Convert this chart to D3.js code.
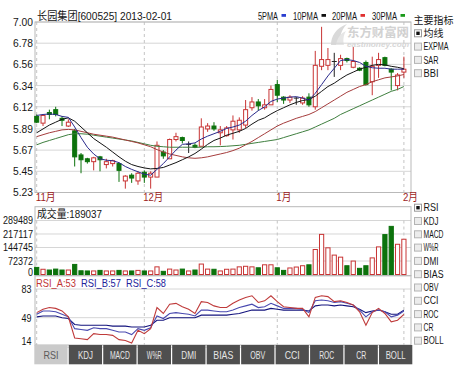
<!DOCTYPE html>
<html><head><meta charset="utf-8">
<script src="https://cdn.jsdelivr.net/npm/d3@7/dist/d3.min.js"></script>
<style>html,body{margin:0;padding:0;background:#fff;}svg{display:block;}</style>
</head><body>
<svg id="chart" width="460" height="370"></svg>
<script>
// ---------------- data ----------------
const stockTitle = "长园集团[600525] 2013-02-01";
const dates = [
"2012-11-08","2012-11-09","2012-11-12","2012-11-13","2012-11-14","2012-11-15","2012-11-16","2012-11-19","2012-11-20","2012-11-21","2012-11-22","2012-11-23","2012-11-26","2012-11-27","2012-11-28","2012-11-29","2012-11-30",
"2012-12-03","2012-12-04","2012-12-05","2012-12-06","2012-12-07","2012-12-10","2012-12-11","2012-12-12","2012-12-13","2012-12-14","2012-12-17","2012-12-18","2012-12-19","2012-12-20","2012-12-21","2012-12-24","2012-12-25","2012-12-26","2012-12-27","2012-12-28","2012-12-31",
"2013-01-04","2013-01-07","2013-01-08","2013-01-09","2013-01-10","2013-01-11","2013-01-14","2013-01-15","2013-01-16","2013-01-17","2013-01-18","2013-01-21","2013-01-22","2013-01-23","2013-01-24","2013-01-25","2013-01-28","2013-01-29","2013-01-30","2013-01-31",
"2013-02-01"];
const open  = [6.02,5.95,6.06,6.09,6.00,5.92,5.87,5.62,5.58,5.55, 5.60,5.52,5.53,5.53,5.35,5.41,5.35,5.44,5.39,5.39, 5.65,5.58,5.78,5.80,5.73,5.72,5.71,5.89,5.92,5.85, 5.82,5.88,5.88,5.93,6.11,6.17,6.11,6.14,6.35,6.22, 6.19,6.21,6.16,6.22,6.12,6.54,6.55,6.59,6.55,6.62, 6.53,6.52,6.58,6.38,6.55,6.63,6.51,6.34,6.48];
const high  = [6.04,6.04,6.09,6.12,6.02,5.99,5.89,5.64,5.59,5.60, 5.61,5.58,5.57,5.54,5.41,5.43,5.45,5.46,5.45,5.76, 5.67,5.79,5.85,5.81,5.76,5.74,6.00,5.95,5.96,5.92, 5.92,6.03,6.01,6.19,6.22,6.20,6.20,6.34,6.40,6.23, 6.24,6.22,6.23,6.26,6.70,6.95,6.73,6.68,6.66,6.63, 6.74,6.53,6.60,6.64,6.68,6.64,6.52,6.47,6.64];
const low   = [5.95,5.92,5.99,6.02,5.92,5.91,5.50,5.43,5.53,5.46, 5.45,5.48,5.50,5.34,5.27,5.33,5.31,5.33,5.27,5.39, 5.58,5.58,5.76,5.74,5.64,5.69,5.71,5.86,5.87,5.72, 5.81,5.78,5.85,5.90,6.08,6.08,6.09,6.14,6.17,6.15, 6.16,6.14,6.14,6.12,6.09,6.50,6.50,6.43,6.50,6.58, 6.52,6.49,6.34,6.24,6.42,6.54,6.29,6.29,6.42];
const close = [5.96,6.03,6.04,6.04,5.98,5.96,5.60,5.57,5.55,5.59, 5.57,5.55,5.56,5.46,5.40,5.38,5.43,5.39,5.43,5.72, 5.61,5.78,5.81,5.77,5.73,5.70,5.91,5.92,5.89,5.88, 5.90,5.97,5.98,6.09,6.17,6.13,6.14,6.30,6.24,6.19, 6.22,6.21,6.21,6.14,6.55,6.61,6.61,6.59,6.62,6.60, 6.59,6.50,6.35,6.54,6.61,6.55,6.48,6.45,6.51];
const volume = [38000,28000,24000,29000,24000,24000,54000,20000,19000,19000, 22000,19000,19000,22000,19000,19000,22000,19000,19000,41000, 17000,29000,24000,29000,19000,24000,56000,29000,28000,19000, 28000,29000,41000,44000,41000,36000,52000,52000,36000,22000, 35000,40000,47000,52000,134000,215000,143000,104000,93000,47000, 72000,33000,47000,89000,148000,214000,258000,162000,189037];
const ma5  = [6.03,6.04,6.045,6.04,6.02,6.01,5.91,5.80,5.70,5.63, 5.58,5.565,5.56,5.54,5.50,5.47,5.445,5.42,5.41,5.47, 5.53,5.60,5.67,5.73,5.735,5.745,5.785,5.815,5.84,5.865, 5.895,5.91,5.93,5.97,6.03,6.08,6.12,6.175,6.20,6.21, 6.22,6.225,6.21,6.19,6.26,6.35,6.44,6.52,6.60,6.61, 6.60,6.58,6.54,6.525,6.52,6.52,6.51,6.51,6.51];
const ma10 = [5.85,5.89,5.93,5.96,5.99,6.005,5.97,5.91,5.85,5.79, 5.745,5.70,5.65,5.60,5.555,5.52,5.50,5.485,5.475,5.48, 5.49,5.515,5.54,5.57,5.60,5.635,5.68,5.73,5.77,5.795, 5.825,5.845,5.865,5.895,5.94,5.98,6.005,6.045,6.08,6.11, 6.14,6.165,6.185,6.195,6.23,6.28,6.33,6.365,6.41,6.45, 6.48,6.51,6.53,6.55,6.56,6.555,6.54,6.53,6.515];
const ma20 = [5.81,5.83,5.85,5.865,5.88,5.885,5.88,5.865,5.85,5.835, 5.825,5.815,5.805,5.79,5.775,5.76,5.745,5.725,5.705,5.675, 5.65,5.63,5.615,5.60,5.59,5.585,5.59,5.60,5.615,5.63, 5.645,5.665,5.69,5.725,5.76,5.80,5.84,5.88,5.92,5.95, 5.975,6.00,6.02,6.04,6.07,6.11,6.15,6.19,6.23,6.27, 6.30,6.33,6.35,6.38,6.40,6.42,6.43,6.44,6.455];
const ma30 = [5.725,5.75,5.77,5.79,5.81,5.83,5.84,5.84,5.835,5.825, 5.815,5.805,5.795,5.785,5.775,5.765,5.75,5.735,5.72,5.71, 5.705,5.70,5.70,5.70,5.70,5.70,5.70,5.705,5.705,5.707, 5.71,5.715,5.72,5.73,5.74,5.75,5.76,5.77,5.78,5.80, 5.82,5.84,5.86,5.88,5.91,5.94,5.97,6.00,6.04,6.07, 6.10,6.13,6.16,6.19,6.22,6.25,6.28,6.30,6.33];
const rsiA = [55,59,61,60,57,50,25,24,23,30, 29,29,28,23,22,19,34,30,36,61, 54,65,66,62,59,54,68,67,63,61, 61,66,70,73,75,67,69,75,68,62, 61,60,60,50,73,75,74,68,69,67, 64,56,40,55,60,54,44,46,53];
const rsiB = [53,57,57,56,53,50,36,35,34,37, 36,36,34,32,32,29,36,34,37,51, 48,54,55,54,53,51,58,58,57,56, 56,58,61,63,65,61,62,66,63,60, 60,60,59,55,69,70,69,67,68,66, 64,58,50,56,58,56,50,52,57];
const rsiC = [50,51,51,51,49,48,41,40,40,40, 40,40,39,39,39,38,38,38,40,46, 46,49,49,49,49,49,52,52,52,52, 52,53,54,56,58,58,58,60,59,58, 58,58,58,57,63,64,64,63,64,63, 62,59,55,57,58,56,53,53,58];
const priceTicks = [7.00,6.78,6.56,6.34,6.12,5.89,5.67,5.45,5.23];
const volTicks = [289489,217117,144745,72372,0];
const rsiTicks = [83,49,14];
const monthLabels = ["11月","12月","1月","2月"];
const maNames = ["5PMA","10PMA","20PMA","30PMA"];
const mainIndicators = ["均线","EXPMA","SAR","BBI"];
const subIndicators = ["RSI","KDJ","MACD","W%R","DMI","BIAS","OBV","CCI","ROC","CR","BOLL"];

// ---------------- helpers ----------------
const svg = d3.select("#chart");
const FONT = '"Liberation Sans","Noto Sans CJK SC",sans-serif';
const isCJK = ch => /[\u2e80-\u9fff\uff00-\uffef]/.test(ch);
const textW = s => Array.from(s).reduce((w,ch)=>w+(isCJK(ch)?10:5),0);
function txt(g, s, x, y, o={}) {
  const t = g.append("text").attr("x",x).attr("y",y).attr("dy","0.36em")
    .attr("font-family",FONT).attr("font-size",o.size||11)
    .attr("fill",o.fill||"#151515").attr("text-anchor",o.anchor||"start")
    .attr("font-weight",o.weight||"normal").text(s);
  t.attr("textLength",o.w||textW(s)).attr("lengthAdjust","spacingAndGlyphs");
  return t;
}
const RED="#c83434", GREEN="#0c720c", GRID="#d6d6d6", FRAME="#b9b9b9", DASH="#c4c4c4";
const L=35, R=411;

const x = d3.scalePoint().domain(dates).range([36.7,403.9]);
const y = d3.scaleLinear().domain([5.23,7.00]).range([192.5,22]);
const yv = d3.scaleLinear().domain([0,289489]).range([274.5,220.5]);
const yr = d3.scaleLinear().domain([14,83]).range([347.2,289]);

// month starts
const monthStart = [];
dates.forEach((d,i)=>{ if(i===0 || d.slice(5,7)!==dates[i-1].slice(5,7)) monthStart.push(d); });

// ---------------- main panel ----------------
const gm = svg.append("g");
// watermark
const wm = gm.append("g");
wm.append("path").attr("d","M331,45 C331,36 336,28 347,24 C341,30 339,37 341,45 Z").attr("fill","#d9d9d9");
wm.append("path").attr("d","M336,45 C337,38 341,33 346,31 C343,36 343,41 344,45 Z").attr("fill","#e6e6e6");
txt(wm,"东方财富网",347,32.5,{size:12,fill:"#d2d2d2",weight:"bold",w:62});
txt(wm,"eastmoney.com",347,44.5,{size:7.5,fill:"#d6d6d6",weight:"bold",w:62}).attr("font-style","italic");

gm.selectAll("line.hg").data(priceTicks).join("line").attr("class","hg")
  .attr("x1",L).attr("x2",R).attr("y1",d=>y(d)).attr("y2",d=>y(d)).attr("stroke",GRID);
gm.selectAll("line.vg").data(monthStart).join("line").attr("class","vg")
  .attr("x1",d=>x(d)).attr("x2",d=>x(d)).attr("y1",22).attr("y2",192.5)
  .attr("stroke",DASH).attr("stroke-dasharray","3,3");
gm.append("rect").attr("x",L).attr("y",22).attr("width",R-L).attr("height",170.5).attr("fill","none").attr("stroke",FRAME);
priceTicks.forEach(v=>txt(gm,v.toFixed(2),33,y(v),{anchor:"end"}));
monthStart.forEach((d,i)=>txt(gm,monthLabels[i],x(d)-1,197.5,{fill:"#9c1c1c"}));
txt(gm,stockTitle,37,16);

// legend
const legColors=["#2a3ed0","#111","#e03030","#1a9a1a"];
const legX=[258,293,332,372];
maNames.forEach((n,i)=>{
  txt(gm,n,legX[i],16,{w:textW(n)});
  gm.append("rect").attr("x",legX[i]+textW(n)+3.5).attr("y",14).attr("width",4.5).attr("height",2.8).attr("fill",legColors[i]);
});

// candles
const idx = d3.range(dates.length);
const colorOf = i => close[i]>open[i]?RED:(close[i]<open[i]?GREEN:"#222");
const cg = gm.append("g");
cg.selectAll("line.wick").data(idx).join("line").attr("class","wick")
  .attr("x1",i=>x(dates[i])).attr("x2",i=>x(dates[i]))
  .attr("y1",i=>y(high[i])).attr("y2",i=>y(low[i])).attr("stroke",colorOf);
cg.selectAll("rect.body").data(idx.filter(i=>close[i]!==open[i])).join("rect").attr("class","body")
  .attr("x",i=>x(dates[i])-2)
  .attr("y",i=>y(Math.max(open[i],close[i])))
  .attr("width",4)
  .attr("height",i=>Math.max(1,y(Math.min(open[i],close[i]))-y(Math.max(open[i],close[i]))))
  .attr("fill",i=>close[i]>open[i]?"#fff":GREEN)
  .attr("stroke",colorOf);
cg.selectAll("line.doji").data(idx.filter(i=>close[i]===open[i])).join("line").attr("class","doji")
  .attr("x1",i=>x(dates[i])-2.5).attr("x2",i=>x(dates[i])+2.5)
  .attr("y1",i=>y(close[i])).attr("y2",i=>y(close[i])).attr("stroke","#222");

// moving averages
const maLine = d3.line().x((d,i)=>x(dates[i])).y(d=>y(d));
[[ma30,"#3f7f3f"],[ma20,"#a53c3c"],[ma10,"#151515"],[ma5,"#2a2a8c"]].forEach(([arr,c])=>{
  gm.append("path").datum(arr).attr("d",maLine).attr("fill","none").attr("stroke",c).attr("stroke-width",1);
});

// ---------------- volume panel ----------------
const gv = svg.append("g");
gv.selectAll("line.hg").data(volTicks.filter(v=>v>0)).join("line").attr("class","hg")
  .attr("x1",L).attr("x2",R).attr("y1",d=>yv(d)).attr("y2",d=>yv(d)).attr("stroke",GRID);
gv.selectAll("line.vg").data(monthStart).join("line").attr("class","vg")
  .attr("x1",d=>x(d)).attr("x2",d=>x(d)).attr("y1",220.5).attr("y2",275.5)
  .attr("stroke",DASH).attr("stroke-dasharray","3,3");
gv.append("rect").attr("x",L).attr("y",206.7).attr("width",R-L).attr("height",69).attr("fill","none").attr("stroke",FRAME);
volTicks.forEach(v=>txt(gv,String(v),33,Math.min(yv(v),272),{anchor:"end"}));
txt(gv,"成交量:"+volume[volume.length-1],37,214);
gv.selectAll("rect.vb").data(idx).join("rect").attr("class","vb")
  .attr("x",i=>x(dates[i])-2.1).attr("width",4.2)
  .attr("y",i=>yv(volume[i])).attr("height",i=>yv(0)-yv(volume[i]))
  .attr("fill",i=>close[i]>=open[i]?"#fff":GREEN)
  .attr("stroke",i=>close[i]>=open[i]?RED:GREEN);

// ---------------- RSI panel ----------------
const gr = svg.append("g");
svg.append("defs").append("clipPath").attr("id","rclip").append("rect")
  .attr("x",L).attr("y",277).attr("width",R-L).attr("height",68);
gr.selectAll("line.hg").data(rsiTicks).join("line").attr("class","hg")
  .attr("x1",L).attr("x2",R).attr("y1",d=>yr(d)).attr("y2",d=>yr(d)).attr("stroke",GRID);
gr.selectAll("line.vg").data(monthStart).join("line").attr("class","vg")
  .attr("x1",d=>x(d)).attr("x2",d=>x(d)).attr("y1",289).attr("y2",345)
  .attr("stroke",DASH).attr("stroke-dasharray","3,3");
gr.append("rect").attr("x",L).attr("y",275.7).attr("width",R-L).attr("height",69.3).attr("fill","none").attr("stroke",FRAME);
rsiTicks.forEach(v=>txt(gr,String(v),31.5,Math.min(yr(v),341),{anchor:"end"}));
const rLine = d3.line().x((d,i)=>x(dates[i])).y(d=>yr(d));
const rsiSeries=[["RSI_A",rsiA,"#bf3a3a"],["RSI_B",rsiB,"#4a4ab0"],["RSI_C",rsiC,"#14147e"]];
const rl = gr.append("g").attr("clip-path","url(#rclip)");
rsiSeries.slice().reverse().forEach(([n,arr,c])=>{
  rl.append("path").datum(arr).attr("d",rLine).attr("fill","none").attr("stroke",c).attr("stroke-width",1.1);
});
let lx=36;
rsiSeries.forEach(([n,arr,c],k)=>{
  const s=n+":"+arr[arr.length-1];
  txt(gr,s,lx,283.5,{fill:k===0?"#c03434":"#22229a"});
  lx+=textW(s)+5;
});

// tabs
const tb = d3.scaleBand().domain(subIndicators).range([34.3,412.3]).paddingInner(0.035);
const gt = svg.append("g");
subIndicators.forEach((n,i)=>{
  gt.append("rect").attr("x",tb(n)).attr("y",345).attr("width",tb.bandwidth()).attr("height",19.3)
    .attr("fill",i===0?"#cacaca":"#4f4f4f");
  txt(gt,n,tb(n)+tb.bandwidth()/2,355,{anchor:"middle",fill:i===0?"#5a5a5a":"#e6e6e6"});
});

// ---------------- right side lists ----------------
const gs = svg.append("g");
function checkbox(g, cy, checked){
  g.append("rect").attr("x",414.5).attr("y",cy-3.5).attr("width",7).attr("height",7)
    .attr("fill",checked?"#fff":"#ececec").attr("stroke",checked?"#9a9a9a":"#b4b4b4");
  if(checked) g.append("rect").attr("x",416.3).attr("y",cy-1.7).attr("width",3.4).attr("height",3.4).attr("fill","#111");
}
txt(gs,"主要指标",413.5,20,{size:10.5});
mainIndicators.forEach((n,i)=>{
  const cy = 33.3 + i*13.3;
  checkbox(gs,cy,i===0);
  txt(gs,n,423.5,cy,{size:10});
});
subIndicators.forEach((n,i)=>{
  const cy = 207.7 + i*13.3;
  checkbox(gs,cy,i===0);
  txt(gs,n,423.5,cy,{size:10});
});
</script>
</body></html>
